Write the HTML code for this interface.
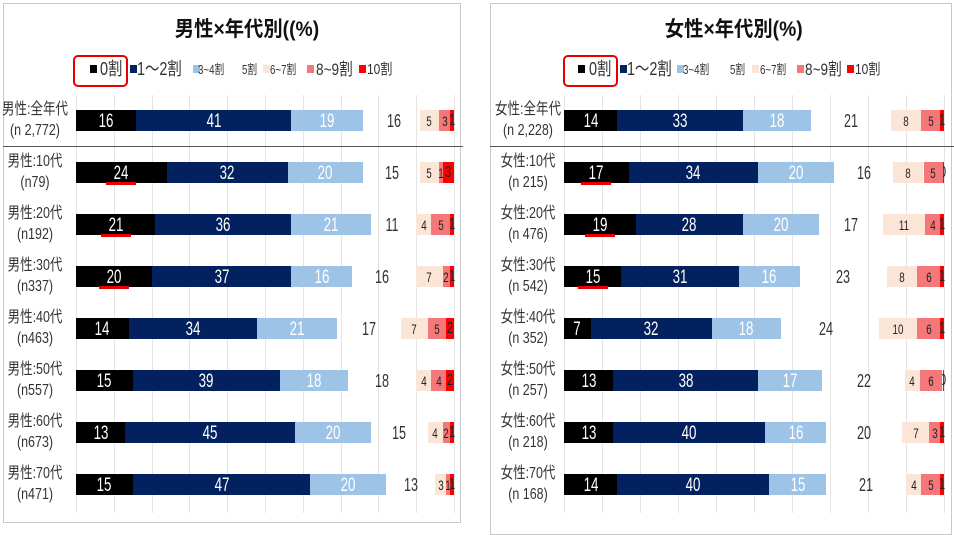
<!DOCTYPE html>
<html><head><meta charset="utf-8"><style>
body{margin:0;width:954px;height:526px;background:#fff;position:relative;overflow:hidden;font-family:"Liberation Sans","Noto Sans CJK JP",sans-serif;}
.a{position:absolute;}
.t{position:absolute;white-space:nowrap;line-height:1;}
</style></head><body>
<div id="r"></div>
<script>
const R=document.getElementById('r');
function el(s,txt){const d=document.createElement('div');d.className=txt!==undefined?'t':'a';d.style.cssText=s;if(txt!==undefined)d.textContent=txt;R.appendChild(d);return d;}
function ct(cx,cy,sz,txt,col,sx,extra){el(`left:${cx-60}px;top:${cy-sz/2}px;width:120px;text-align:center;font-size:${sz}px;color:${col};transform:scaleX(${sx});${extra||''}`,txt);}
const cols=['#000','#02215e','#9dc3e6','#fff','#fbe5d6','#f4787a','#ff0000'];
function panel(px,pw,ph,x0,scale,title,tx,lbls,data,lx,leg,boxx){
  el(`left:${px}px;top:3px;width:${pw}px;height:${ph}px;border:1px solid #c8c8c8;`);
  ct(tx,29,21,title,'#111',0.92,'font-weight:bold;');
  leg.forEach((l,i)=>{
    if(l[0]!==null)el(`left:${l[0]}px;top:65px;width:7px;height:8px;background:${cols[i]};`);
    el(`left:${l[1]}px;top:${69-l[2]/2}px;font-size:${l[2]}px;color:#333;transform:scaleX(${l[4]});transform-origin:left center`,l[3]);});
  el(`left:${boxx}px;top:55px;width:51px;height:28px;border:2.5px solid #e60000;border-radius:5px;`);
  for(let g=0;g<=10;g++)el(`left:${x0+g*scale*10}px;top:95px;width:1px;height:418px;background:#e4e4e4;`);
  el(`left:${px}px;top:146px;width:${pw+4}px;height:1px;background:#555;`);
  data.forEach((d,i)=>{const cy=120+52*i,y=cy-10.5;
    ct(lx,cy-10,16,lbls[i][0],'#333',0.78);
    ct(lx,cy+11,16,lbls[i][1],'#333',0.78);
    let x=x0;
    for(let k=0;k<4;k++){const w=d[k]*scale;
      if(k<3)el(`left:${x}px;top:${y}px;width:${w}px;height:21px;background:${cols[k]};`);
      ct(x+w/2,cy+1,k<3?19:18,d[k],k<3?'#fff':'#333',0.7);
      x+=w;}
    let xe=x0+100*scale;
    for(let k=6;k>=4;k--){const w=Math.max(d[k]*scale,d[k]==0?1.5:0);xe-=w;
      el(`left:${xe}px;top:${y}px;width:${w}px;height:21px;background:${cols[k]};`);
      ct(xe+w/2,cy+1,k==6?16:14,d[k],'#222',0.7);}
    if(i>=1&&i<=3)el(`left:${x0+d[0]*scale/2-15}px;top:${cy+10}px;width:30px;height:3px;background:#e60000;`);
  });
}
panel(3,456,518,76,3.78,'男性×年代別((%)',230,
 [['男性:全年代','(n 2,772)'],['男性:10代','(n79)'],['男性:20代','(n192)'],['男性:30代','(n337)'],['男性:40代','(n463)'],['男性:50代','(n557)'],['男性:60代','(n673)'],['男性:70代','(n471)']],
 [[16,41,19,16,5,3,1],[24,32,20,15,5,1,3],[21,36,21,11,4,5,1],[20,37,16,16,7,2,1],[14,34,21,17,7,5,2],[15,39,18,18,4,4,2],[13,45,20,15,4,2,1],[15,47,20,13,3,1,1]],
 35,
 [[90,100,18,'0割',0.8],[130,137,18,'1～2割',0.8],[193,198,13,'3~4割',0.75],[null,242,13,'5割',0.75],[263,270,13,'6~7割',0.75],[307,316,17,'8~9割',0.8],[359,367,15,'10割',0.8]],
 73);
panel(490,460,530,564,3.8,'女性×年代別(%)',720,
 [['女性:全年代','(n 2,228)'],['女性:10代','(n 215)'],['女性:20代','(n 476)'],['女性:30代','(n 542)'],['女性:40代','(n 352)'],['女性:50代','(n 257)'],['女性:60代','(n 218)'],['女性:70代','(n 168)']],
 [[14,33,18,21,8,5,1],[17,34,20,16,8,5,0],[19,28,20,17,11,4,1],[15,31,16,23,8,6,1],[7,32,18,24,10,6,1],[13,38,17,22,4,6,0],[13,40,16,20,7,3,1],[14,40,15,21,4,5,1]],
 528,
 [[578,589,18,'0割',0.8],[620,627,18,'1～2割',0.8],[677,683,13,'3~4割',0.75],[null,730,13,'5割',0.75],[752,760,13,'6~7割',0.75],[797,805,17,'8~9割',0.8],[847,855,15,'10割',0.8]],
 563);
</script>
</body></html>
